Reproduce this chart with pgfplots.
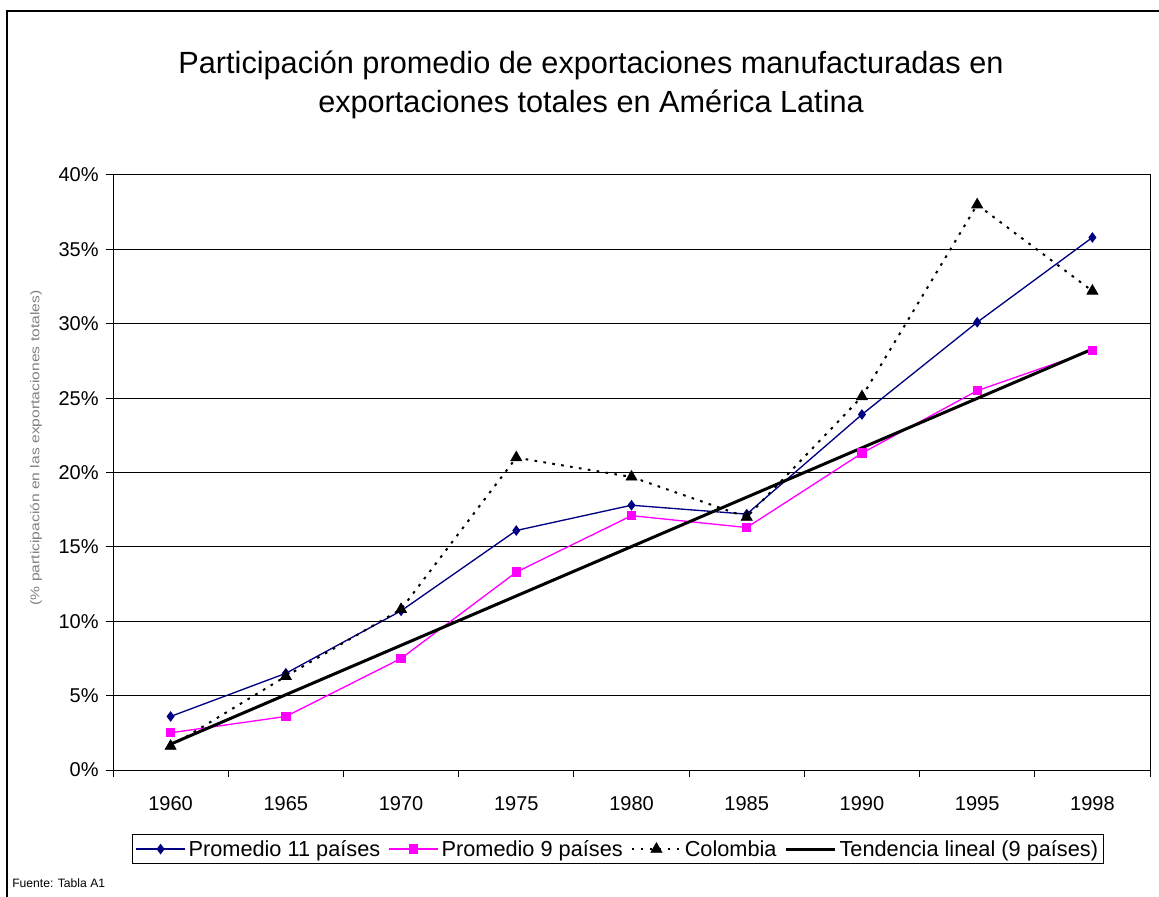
\documentclass[border=0pt]{standalone}
\usepackage{pgfplots}
\pgfplotsset{compat=1.18}
\usepackage{fontspec}
\setmainfont{Liberation Sans}
\definecolor{navyb}{RGB}{0,0,128}
\definecolor{magb}{RGB}{255,0,255}
\begin{document}
\begin{tikzpicture}
\useasboundingbox (0,0) rectangle (869.25pt,672pt);
\draw[line width=1.1pt] (5.25pt,-1pt) -- (5.25pt,663.75pt) -- (870pt,663.75pt);
\node[align=center,font=\fontsize{23}{29.25}\selectfont] at (443.25pt,608.6pt) {Participación promedio de exportaciones manufacturadas en\\exportaciones totales en América Latina};
\node[rotate=90,xscale=1.235,text=gray,font=\fontsize{9.5}{11}\selectfont] at (27pt,336pt) {(\% participación en las exportaciones totales)};
\node[anchor=base west,font=\fontsize{9.1}{11}\selectfont,inner sep=0pt] at (9pt,6.75pt) {Fuente: Tabla A1};
\begin{axis}[
  at={(84.75pt,94.5pt)}, anchor=south west, scale only axis,
  width=777.75pt, height=446.25pt,
  xmin=-0.5, xmax=8.5, ymin=0, ymax=40,
  xtick={0,...,8},
  xticklabels={1960,1965,1970,1975,1980,1985,1990,1995,1998},
  minor xtick={-0.5,0.5,...,8.5},
  ytick={0,5,...,40},
  yticklabel={\pgfmathprintnumber{\tick}\%},
  tick align=outside, xtick pos=bottom, ytick pos=left,
  major tick length=5.25pt, minor tick length=5.25pt,
  major x tick style={draw=none},
  ymajorgrids, grid style={black,line width=0.75pt},
  axis line style={line width=0.75pt},
  tick style={black,line width=0.75pt},
  ticklabel style={font=\fontsize{15}{17}\selectfont},
  /pgf/number format/assume math mode=true,
  xticklabel style={yshift=-11pt},
  yticklabel style={xshift=-2pt},
  legend columns=4,
  legend style={at={(0.487,-0.133)}, anchor=center, draw=black, line width=0.75pt,
    font=\fontsize{16.3}{19}\selectfont, inner sep=2pt,
    /tikz/every even column/.append style={column sep=4pt}},
  legend image code/.code={\draw[mark repeat=2,mark phase=2,#1] plot coordinates {(0cm,0cm) (0.65cm,0cm) (1.3cm,0cm)};},
]
\addplot[navyb, line width=1pt, mark=diamond*, mark size=3.2pt, mark options={solid,fill=navyb}]
  coordinates {(0,3.6) (1,6.5) (2,10.7) (3,16.1) (4,17.8) (5,17.2) (6,23.9) (7,30.1) (8,35.8)};
\addlegendentry{Promedio 11 países}
\addplot[magb, line width=1pt, mark=square*, mark size=3pt, mark options={solid,fill=magb}]
  coordinates {(0,2.5) (1,3.6) (2,7.5) (3,13.3) (4,17.1) (5,16.3) (6,21.3) (7,25.5) (8,28.2)};
\addlegendentry{Promedio 9 países}
\addplot[black, line width=1.5pt, dash pattern=on 2pt off 4.75pt, mark=triangle*, mark size=4.8pt, mark options={solid,fill=black,line width=0.5pt}]
  coordinates {(0,1.6) (1,6.3) (2,10.8) (3,21.0) (4,19.7) (5,17.0) (6,25.1) (7,38.0) (8,32.2)};
\addlegendentry{Colombia}
\addplot[black, line width=2.25pt, no marks]
  coordinates {(0,1.74) (1,5.06) (2,8.38) (3,11.70) (4,15.02) (5,18.34) (6,21.66) (7,24.98) (8,28.30)};
\addlegendentry{Tendencia lineal (9 países)}
\end{axis}
\end{tikzpicture}
\end{document}
